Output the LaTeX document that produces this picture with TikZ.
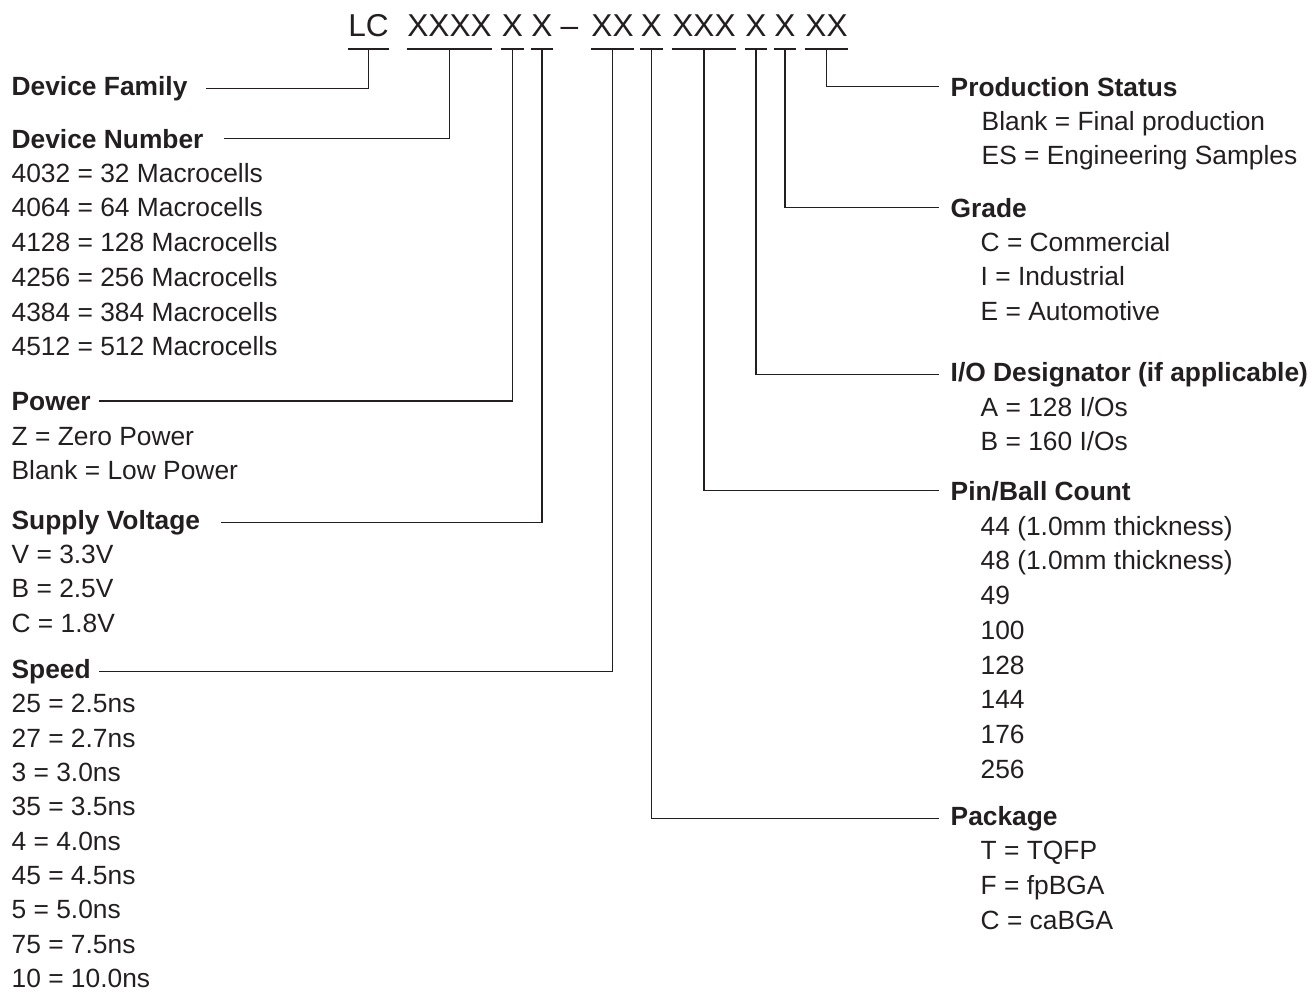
\documentclass[tikz,border=0pt]{standalone}
\usepackage{fontspec}
\setmainfont{Liberation Sans}
\definecolor{ink}{HTML}{231F20}
\tikzset{code/.style={font=\fontsize{18}{18}\selectfont, anchor=south, inner xsep=0pt, inner ysep=6.6pt, text depth=0pt}}
\tikzset{head/.style={font=\fontsize{15}{18}\selectfont\bfseries, anchor=base west, inner sep=0pt}}
\tikzset{item/.style={font=\fontsize{15}{18}\selectfont, anchor=base west, inner sep=0pt}}
\tikzset{wire/.style={line width=0.75pt}}
\begin{document}
\begin{tikzpicture}[x=0.02cm,y=-0.02cm,ink,every path/.style={wire}]
  \useasboundingbox (0,0) rectangle (1314,992);
  % part number
  \node[code] (lc) at (368.5,49) {LC};
  \node[code] (dev) at (449.5,49) {XXXX};
  \node[code] (pwr) at (512.5,49) {X};
  \node[code] (vcc) at (542,49) {X};
  \node[code] (dash) at (569.5,49) {--};
  \node[code] (spd) at (612.5,49) {XX};
  \node[code] (pkg) at (651.5,49) {X};
  \node[code] (pin) at (704,49) {XXX};
  \node[code] (io) at (756,49) {X};
  \node[code] (grd) at (785,49) {X};
  \node[code] (stat) at (826.5,49) {XX};
  \foreach \n in {lc,dev,pwr,vcc,spd,pkg,pin,io,grd,stat}
    \draw (\n.south west) -- (\n.south east);

  % left column
  \node[head] (fam) at (11,95) {Device Family};
  \node[head] (num) at (11,148) {Device Number};
  \foreach \t [count=\i] in {4032 = 32 Macrocells, 4064 = 64 Macrocells, 4128 = 128 Macrocells,
      4256 = 256 Macrocells, 4384 = 384 Macrocells, 4512 = 512 Macrocells}
    \node[item] (num\i) at (11,{147.5+34.7*\i}) {\t};
  \node[head] (power) at (11,410) {Power};
  \node[item] (power1) at (11,445) {Z = Zero Power};
  \node[item] (power2) at (11,479.5) {Blank = Low Power};
  \node[head] (volt) at (11,529) {Supply Voltage};
  \foreach \t [count=\i] in {V = 3.3V, B = 2.5V, C = 1.8V}
    \node[item] (volt\i) at (11,{528.5+34.7*\i}) {\t};
  \node[head] (speed) at (11,678) {Speed};
  \foreach \t [count=\i] in {25 = 2.5ns, 27 = 2.7ns, 3 = 3.0ns, 35 = 3.5ns, 4 = 4.0ns,
      45 = 4.5ns, 5 = 5.0ns, 75 = 7.5ns, 10 = 10.0ns}
    \node[item] (speed\i) at (11,{678.5+34.35*\i}) {\t};

  % right column
  \node[head] (pstat) at (950,96) {Production Status};
  \node[item] (pstat1) at (981,130) {Blank = Final production};
  \node[item] (pstat2) at (981,164.5) {ES = Engineering Samples};
  \node[head] (grade) at (950,217) {Grade};
  \foreach \t [count=\i] in {C = Commercial, I = Industrial, E = Automotive}
    \node[item] (grade\i) at (980,{216.5+34.7*\i}) {\t};
  \node[head] (iod) at (950,381) {I/O Designator (if applicable)};
  \node[item] (iod1) at (980,416) {A = 128 I/Os};
  \node[item] (iod2) at (980,450.5) {B = 160 I/Os};
  \node[head] (pins) at (950,500) {Pin/Ball Count};
  \foreach \t [count=\i] in {44 (1.0mm thickness), 48 (1.0mm thickness), 49, 100, 128, 144, 176, 256}
    \node[item] (pins\i) at (980,{500.5+34.7*\i}) {\t};
  \node[head] (pack) at (950,825) {Package};
  \foreach \t [count=\i] in {T = TQFP, F = fpBGA, C = caBGA}
    \node[item] (pack\i) at (980,{825+34.7*\i}) {\t};

  % leaders
  \draw[shorten >=10pt] (lc.south) |- (fam.east);
  \draw[shorten >=11.3pt] (dev.south) |- (num.east);
  \draw[shorten >=4.2pt] (pwr.south) |- (power.east);
  \draw[shorten >=11.3pt] (vcc.south) |- (volt.east);
  \draw[shorten >=4.2pt] (spd.south) |- (speed.east);
  \draw[shorten >=6pt] (pkg.south) |- (pack.west);
  \draw[shorten >=6pt] (pin.south) |- (pins.west);
  \draw[shorten >=6pt] (io.south) |- (iod.west);
  \draw[shorten >=6pt] (grd.south) |- (grade.west);
  \draw[shorten >=6pt] (stat.south) |- (pstat.west);
\end{tikzpicture}
\end{document}
